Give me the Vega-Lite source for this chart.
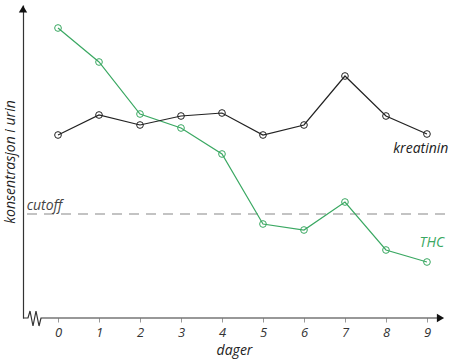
{
  "$schema": "https://vega.github.io/schema/vega-lite/v6.json",
  "autosize": "none",
  "width": 422,
  "height": 313,
  "padding": {"left": 23, "top": 5, "right": 5, "bottom": 42},
  "background": "white",
  "config": {"view": {"stroke": null}, "font": "Open Sans"},
  "datasets": {
    "serier": [
      {"dag": 0, "serie": "THC", "verdi": 290},
      {"dag": 1, "serie": "THC", "verdi": 256},
      {"dag": 2, "serie": "THC", "verdi": 204},
      {"dag": 3, "serie": "THC", "verdi": 190},
      {"dag": 4, "serie": "THC", "verdi": 164},
      {"dag": 5, "serie": "THC", "verdi": 94},
      {"dag": 6, "serie": "THC", "verdi": 88},
      {"dag": 7, "serie": "THC", "verdi": 116},
      {"dag": 8, "serie": "THC", "verdi": 68},
      {"dag": 9, "serie": "THC", "verdi": 56},
      {"dag": 0, "serie": "kreatinin", "verdi": 183},
      {"dag": 1, "serie": "kreatinin", "verdi": 203},
      {"dag": 2, "serie": "kreatinin", "verdi": 193},
      {"dag": 3, "serie": "kreatinin", "verdi": 202},
      {"dag": 4, "serie": "kreatinin", "verdi": 205},
      {"dag": 5, "serie": "kreatinin", "verdi": 183},
      {"dag": 6, "serie": "kreatinin", "verdi": 193},
      {"dag": 7, "serie": "kreatinin", "verdi": 242},
      {"dag": 8, "serie": "kreatinin", "verdi": 202},
      {"dag": 9, "serie": "kreatinin", "verdi": 184}
    ],
    "etiketter": [
      {"tekst": "kreatinin", "x": 8.85, "y": 169, "serie": "kreatinin"},
      {"tekst": "THC", "x": 9.12, "y": 75, "serie": "THC"},
      {"tekst": "cutoff", "x": -0.33, "y": 112, "serie": "cutoff"}
    ],
    "xakse": [
      {"i": 0, "x": -0.854, "y": 0},
      {"i": 1, "x": -0.732, "y": 0},
      {"i": 2, "x": -0.683, "y": 7},
      {"i": 3, "x": -0.61, "y": -8},
      {"i": 4, "x": -0.537, "y": 7},
      {"i": 5, "x": -0.463, "y": -8},
      {"i": 6, "x": -0.415, "y": 0},
      {"i": 7, "x": 9.36, "y": 0}
    ],
    "pilopp": [{"x": -0.854, "y": 309}],
    "pilhoyre": [{"x": 9.33, "y": 0}]
  },
  "layer": [
    {
      "data": {"values": [{"cutoff": 104}]},
      "mark": {"type": "rule", "color": "#b0b0b0", "strokeDash": [10, 7], "strokeWidth": 1.5},
      "encoding": {"y": {"field": "cutoff", "type": "quantitative", "scale": {"domain": [0, 313]}}}
    },
    {
      "data": {"name": "serier"},
      "mark": {"type": "line", "strokeWidth": 1.2, "point": {"filled": false, "size": 45, "strokeWidth": 1}},
      "encoding": {
        "x": {
          "field": "dag", "type": "quantitative",
          "scale": {"domain": [-0.854, 9.44], "nice": false, "zero": false},
          "axis": {
            "values": [0, 1, 2, 3, 4, 5, 6, 7, 8, 9],
            "domain": false, "grid": false,
            "tickColor": "#999", "tickSize": 4,
            "labelFont": "Open Sans", "labelFontStyle": "italic", "labelFontSize": 13, "labelColor": "#333", "labelPadding": 4,
            "title": "dager", "titleFont": "Open Sans", "titleFontStyle": "italic", "titleFontWeight": "normal", "titleFontSize": 14, "titleColor": "#222", "titlePadding": 4
          }
        },
        "y": {
          "field": "verdi", "type": "quantitative",
          "scale": {"domain": [0, 313], "nice": false},
          "axis": {
            "ticks": false, "labels": false, "grid": false,
            "domainColor": "#333", "domainWidth": 1.2,
            "title": "konsentrasjon i urin", "titleFont": "Open Sans", "titleFontStyle": "italic", "titleFontWeight": "normal", "titleFontSize": 14, "titleColor": "#222", "titlePadding": 6
          }
        },
        "color": {"field": "serie", "type": "nominal", "scale": {"domain": ["kreatinin", "THC", "cutoff"], "range": ["#222222", "#3aa862", "#444444"]}, "legend": null}
      }
    },
    {
      "data": {"name": "xakse"},
      "mark": {"type": "line", "color": "#333", "strokeWidth": 1.2},
      "encoding": {
        "x": {"field": "x", "type": "quantitative"},
        "y": {"field": "y", "type": "quantitative"},
        "order": {"field": "i"}
      }
    },
    {
      "data": {"name": "pilopp"},
      "mark": {"type": "point", "shape": "triangle-up", "filled": true, "color": "#111", "size": 70, "opacity": 1},
      "encoding": {
        "x": {"field": "x", "type": "quantitative"},
        "y": {"field": "y", "type": "quantitative"}
      }
    },
    {
      "data": {"name": "pilhoyre"},
      "mark": {"type": "point", "shape": "triangle-right", "filled": true, "color": "#111", "size": 70, "opacity": 1},
      "encoding": {
        "x": {"field": "x", "type": "quantitative"},
        "y": {"field": "y", "type": "quantitative"}
      }
    },
    {
      "data": {"name": "etiketter"},
      "mark": {"type": "text", "fontStyle": "italic", "fontSize": 14, "font": "Open Sans", "baseline": "middle", "align": "center"},
      "encoding": {
        "x": {"field": "x", "type": "quantitative"},
        "y": {"field": "y", "type": "quantitative"},
        "text": {"field": "tekst"},
        "color": {"field": "serie", "type": "nominal", "legend": null}
      }
    }
  ]
}
